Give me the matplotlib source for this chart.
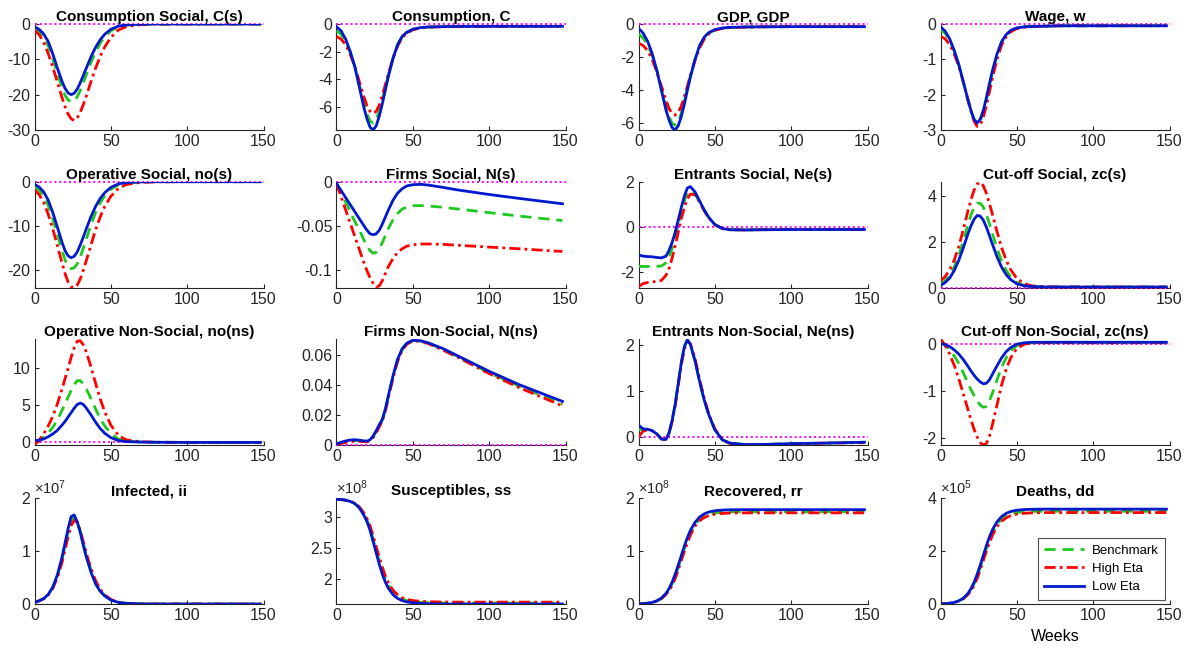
import numpy as np
import matplotlib
matplotlib.use("Agg")
import matplotlib.pyplot as plt
from matplotlib.ticker import FuncFormatter

plt.rcParams['font.family'] = ['Liberation Sans', 'DejaVu Sans']
plt.rcParams['axes.unicode_minus'] = False
plt.rcParams['mathtext.fontset'] = 'custom'
plt.rcParams['mathtext.rm'] = 'Liberation Sans'
plt.rcParams['mathtext.it'] = 'Liberation Sans'

# ---------------- data ----------------
weeks = [0, 3, 6, 9, 12, 15, 18, 20, 22, 24, 26, 28, 30, 32, 34, 37, 40, 43, 46, 50, 55, 60, 70, 80, 100, 120, 148]

# Consumption Social, C(s)
cs_bench = [-1.2, -2.0, -3.5, -6.2, -9.8, -14, -18, -20.2, -21.5, -22, -21.8, -20.6, -18.8, -16.6, -14.3, -10.9, -7.9, -5.5, -3.6, -1.9, -0.8, -0.33, -0.06, 0, 0, 0, 0]
cs_high = [-1.8, -3.0, -5.2, -8.4, -12.2, -16.5, -20.8, -23.4, -25.5, -26.8, -27.3, -26.6, -25, -22.8, -20.3, -16.3, -12.5, -9.2, -6.5, -3.8, -1.7, -0.75, -0.15, -0.03, 0, 0, 0]
cs_low = [-0.8, -1.5, -2.8, -5, -8.5, -12.5, -16.2, -18.2, -19.5, -20, -19.6, -18.4, -16.6, -14.5, -12.4, -9.3, -6.6, -4.5, -2.9, -1.5, -0.6, -0.25, -0.05, 0, 0, 0, 0]

# Consumption, C
c_bench = [-0.5, -0.75, -1.25, -2.05, -3.1, -4.45, -5.8, -6.55, -7.05, -7.2, -6.95, -6.35, -5.5, -4.6, -3.7, -2.5, -1.55, -0.95, -0.62, -0.4, -0.27, -0.22, -0.19, -0.18, -0.17, -0.17, -0.17]
c_high = [-0.9, -1.1, -1.5, -2.2, -3.1, -4.2, -5.3, -5.95, -6.35, -6.5, -6.35, -5.9, -5.2, -4.4, -3.6, -2.5, -1.6, -1.0, -0.66, -0.42, -0.28, -0.23, -0.2, -0.18, -0.17, -0.17, -0.17]
c_low = [-0.2, -0.5, -1.1, -2.0, -3.1, -4.6, -6.1, -6.9, -7.5, -7.7, -7.4, -6.7, -5.8, -4.8, -3.8, -2.5, -1.5, -0.9, -0.6, -0.38, -0.26, -0.22, -0.19, -0.18, -0.17, -0.17, -0.17]

# GDP
gdp_bench = [-0.6, -0.85, -1.25, -1.9, -2.8, -3.9, -5.0, -5.6, -6.0, -6.1, -5.9, -5.4, -4.7, -3.9, -3.15, -2.15, -1.35, -0.85, -0.55, -0.36, -0.25, -0.21, -0.18, -0.17, -0.16, -0.16, -0.16]
gdp_high = [-1.15, -1.3, -1.6, -2.15, -2.9, -3.75, -4.6, -5.1, -5.4, -5.5, -5.35, -4.95, -4.4, -3.75, -3.1, -2.2, -1.45, -0.92, -0.6, -0.38, -0.26, -0.22, -0.19, -0.17, -0.16, -0.16, -0.16]
gdp_low = [-0.25, -0.55, -1.05, -1.8, -2.8, -4.0, -5.2, -5.8, -6.25, -6.4, -6.15, -5.6, -4.85, -4.0, -3.2, -2.15, -1.3, -0.8, -0.52, -0.34, -0.24, -0.2, -0.18, -0.17, -0.16, -0.16, -0.16]

# Wage, w
w_bench = [-0.15, -0.26, -0.46, -0.77, -1.16, -1.65, -2.15, -2.47, -2.72, -2.83, -2.74, -2.5, -2.16, -1.76, -1.38, -0.9, -0.53, -0.32, -0.19, -0.12, -0.08, -0.07, -0.06, -0.05, -0.05, -0.05, -0.05]
w_high = [-0.35, -0.42, -0.58, -0.85, -1.2, -1.65, -2.15, -2.48, -2.75, -2.9, -2.86, -2.65, -2.32, -1.93, -1.53, -1.0, -0.6, -0.36, -0.22, -0.13, -0.09, -0.07, -0.06, -0.05, -0.05, -0.05, -0.05]
w_low = [-0.08, -0.2, -0.42, -0.75, -1.15, -1.65, -2.15, -2.45, -2.7, -2.8, -2.7, -2.45, -2.1, -1.7, -1.32, -0.85, -0.5, -0.3, -0.18, -0.11, -0.08, -0.07, -0.06, -0.05, -0.05, -0.05, -0.05]

# Operative Social, no(s)
nos_bench = [-1.2, -1.9, -3.2, -5.4, -8.4, -12.0, -15.6, -17.7, -19.1, -19.7, -19.5, -18.6, -17.0, -15.0, -12.9, -9.8, -7.0, -4.8, -3.2, -1.7, -0.7, -0.28, -0.05, 0, 0, 0, 0]
nos_high = [-1.8, -2.9, -4.7, -7.4, -10.7, -14.5, -18.4, -20.8, -22.7, -23.8, -24.0, -23.4, -22.0, -20.0, -17.8, -14.3, -10.9, -8.0, -5.6, -3.3, -1.5, -0.65, -0.13, -0.03, 0, 0, 0]
nos_low = [-0.6, -1.2, -2.3, -4.2, -7.0, -10.3, -13.7, -15.6, -16.8, -17.2, -16.9, -15.9, -14.3, -12.5, -10.6, -7.9, -5.6, -3.8, -2.5, -1.3, -0.5, -0.2, -0.04, 0, 0, 0, 0]

# Firms Social, N(s)
ns_bench = [-0.002, -0.013, -0.023, -0.034, -0.045, -0.055, -0.066, -0.073, -0.078, -0.081, -0.08, -0.076, -0.069, -0.061, -0.053, -0.043, -0.036, -0.031, -0.0285, -0.0272, -0.027, -0.0275, -0.029, -0.031, -0.035, -0.039, -0.044]
ns_high = [-0.002, -0.017, -0.032, -0.047, -0.062, -0.077, -0.092, -0.101, -0.109, -0.115, -0.119, -0.118, -0.112, -0.104, -0.096, -0.087, -0.08, -0.076, -0.073, -0.0715, -0.0705, -0.0705, -0.071, -0.072, -0.074, -0.076, -0.079]
ns_low = [-0.002, -0.01, -0.018, -0.026, -0.034, -0.042, -0.05, -0.055, -0.059, -0.06, -0.059, -0.055, -0.048, -0.04, -0.032, -0.021, -0.013, -0.008, -0.0048, -0.0034, -0.003, -0.0038, -0.0065, -0.0095, -0.0145, -0.019, -0.025]

# Entrants Social, Ne(s)
nes_bench = [-1.75, -1.76, -1.76, -1.76, -1.75, -1.74, -1.6, -1.35, -0.95, -0.45, 0.1, 0.65, 1.15, 1.5, 1.6, 1.45, 1.1, 0.72, 0.4, 0.1, -0.08, -0.13, -0.14, -0.13, -0.12, -0.12, -0.12]
nes_high = [-2.65, -2.52, -2.47, -2.44, -2.42, -2.38, -2.15, -1.85, -1.4, -0.85, -0.25, 0.35, 0.85, 1.25, 1.45, 1.42, 1.1, 0.72, 0.4, 0.1, -0.08, -0.13, -0.14, -0.13, -0.12, -0.12, -0.12]
nes_low = [-1.25, -1.3, -1.32, -1.33, -1.36, -1.38, -1.3, -1.05, -0.7, -0.25, 0.3, 0.85, 1.35, 1.72, 1.78, 1.55, 1.15, 0.75, 0.42, 0.1, -0.08, -0.13, -0.14, -0.13, -0.12, -0.12, -0.12]

# Cut-off Social, zc(s)
zcs_bench = [0.15, 0.3, 0.52, 0.9, 1.4, 2.05, 2.75, 3.18, 3.5, 3.68, 3.68, 3.52, 3.2, 2.8, 2.36, 1.72, 1.17, 0.76, 0.47, 0.23, 0.1, 0.05, 0.03, 0.03, 0.03, 0.03, 0.03]
zcs_high = [0.3, 0.48, 0.78, 1.2, 1.8, 2.55, 3.35, 3.85, 4.25, 4.52, 4.6, 4.45, 4.12, 3.68, 3.2, 2.45, 1.75, 1.2, 0.78, 0.4, 0.17, 0.08, 0.04, 0.03, 0.03, 0.03, 0.03]
zcs_low = [0.1, 0.22, 0.42, 0.75, 1.2, 1.75, 2.35, 2.7, 2.98, 3.15, 3.12, 2.95, 2.65, 2.28, 1.9, 1.35, 0.9, 0.57, 0.35, 0.17, 0.08, 0.05, 0.03, 0.03, 0.03, 0.03, 0.03]

# Operative Non-Social, no(ns)
nons_bench = [0.0, 0.25, 0.7, 1.25, 2.0, 3.0, 4.3, 5.2, 6.1, 7.0, 7.8, 8.35, 8.35, 7.9, 7.2, 5.9, 4.5, 3.2, 2.2, 1.15, 0.4, 0.12, 0.0, -0.03, -0.05, -0.05, -0.05]
nons_high = [-0.4, 0.25, 1.1, 2.2, 3.5, 5.2, 7.2, 8.6, 10.0, 11.5, 12.8, 13.7, 13.75, 13.2, 12.2, 10.2, 8.0, 5.9, 4.1, 2.3, 0.9, 0.3, 0.03, -0.02, -0.05, -0.05, -0.05]
nons_low = [0.2, 0.25, 0.42, 0.72, 1.1, 1.6, 2.3, 2.8, 3.4, 4.0, 4.6, 5.1, 5.3, 5.1, 4.6, 3.7, 2.7, 1.85, 1.2, 0.6, 0.2, 0.06, 0.0, -0.03, -0.05, -0.05, -0.05]

# Firms Non-Social, N(ns)
nns_bench = [0.0007, 0.0015, 0.0023, 0.0028, 0.003, 0.0029, 0.0025, 0.0024, 0.0033, 0.0055, 0.009, 0.0128, 0.0165, 0.0233, 0.0323, 0.0453, 0.0563, 0.0635, 0.0674, 0.0695, 0.0692, 0.0678, 0.0635, 0.0585, 0.048, 0.039, 0.027]
nns_high = [0.0005, 0.0011, 0.0017, 0.0022, 0.0025, 0.0025, 0.0022, 0.0021, 0.003, 0.005, 0.008, 0.012, 0.016, 0.0225, 0.0315, 0.0445, 0.0555, 0.063, 0.067, 0.0692, 0.069, 0.0675, 0.063, 0.058, 0.0475, 0.038, 0.026]
nns_low = [0.0008, 0.0018, 0.0027, 0.0033, 0.0035, 0.0032, 0.0027, 0.0026, 0.0035, 0.006, 0.0095, 0.0135, 0.017, 0.024, 0.033, 0.046, 0.057, 0.064, 0.0677, 0.0697, 0.0693, 0.068, 0.064, 0.059, 0.049, 0.04, 0.029]

# Entrants Non-Social, Ne(ns)
nens_bench = [0.15, 0.16, 0.16, 0.13, 0.06, -0.05, -0.06, 0.08, 0.35, 0.7, 1.15, 1.6, 1.95, 2.1, 2.0, 1.65, 1.2, 0.8, 0.48, 0.15, -0.07, -0.14, -0.17, -0.17, -0.15, -0.14, -0.12]
nens_high = [0.0, 0.12, 0.15, 0.13, 0.06, -0.05, -0.06, 0.07, 0.32, 0.66, 1.1, 1.55, 1.9, 2.08, 2.02, 1.7, 1.25, 0.84, 0.5, 0.17, -0.07, -0.15, -0.18, -0.18, -0.16, -0.14, -0.13]
nens_low = [0.25, 0.17, 0.16, 0.13, 0.06, -0.05, -0.06, 0.08, 0.35, 0.7, 1.15, 1.6, 1.95, 2.1, 2.0, 1.65, 1.2, 0.8, 0.48, 0.15, -0.07, -0.14, -0.17, -0.17, -0.15, -0.14, -0.12]

# Cut-off Non-Social, zc(ns)
zcns_bench = [0.05, -0.02, -0.12, -0.26, -0.42, -0.62, -0.84, -0.98, -1.1, -1.22, -1.3, -1.35, -1.33, -1.22, -1.05, -0.77, -0.5, -0.3, -0.15, -0.04, 0.01, 0.02, 0.03, 0.03, 0.03, 0.03, 0.03]
zcns_high = [0.1, -0.03, -0.22, -0.46, -0.75, -1.07, -1.4, -1.62, -1.82, -1.98, -2.1, -2.15, -2.12, -1.97, -1.72, -1.3, -0.88, -0.54, -0.3, -0.1, -0.01, 0.02, 0.02, 0.02, 0.02, 0.02, 0.02]
zcns_low = [0.0, -0.02, -0.06, -0.13, -0.22, -0.34, -0.48, -0.58, -0.67, -0.75, -0.81, -0.85, -0.84, -0.77, -0.65, -0.47, -0.3, -0.17, -0.08, -0.01, 0.02, 0.03, 0.03, 0.03, 0.03, 0.03, 0.03]

# Infected, ii (x1e7)
ii_bench = np.array([0.03, 0.06, 0.1, 0.18, 0.31, 0.53, 0.84, 1.1, 1.36, 1.58, 1.64, 1.55, 1.37, 1.14, 0.92, 0.64, 0.41, 0.26, 0.16, 0.08, 0.033, 0.013, 0.002, 0.0, 0.0, 0.0, 0.0]) * 1e7
ii_high = np.array([0.03, 0.06, 0.1, 0.17, 0.3, 0.5, 0.78, 1.02, 1.27, 1.48, 1.58, 1.54, 1.38, 1.17, 0.95, 0.67, 0.44, 0.28, 0.17, 0.085, 0.035, 0.014, 0.002, 0.0, 0.0, 0.0, 0.0]) * 1e7
ii_low = np.array([0.03, 0.06, 0.1, 0.18, 0.32, 0.55, 0.88, 1.15, 1.42, 1.65, 1.68, 1.55, 1.35, 1.1, 0.88, 0.6, 0.38, 0.24, 0.15, 0.075, 0.03, 0.012, 0.002, 0.0, 0.0, 0.0, 0.0]) * 1e7

# Susceptibles, ss (x1e8)
ss_bench = np.array([3.28, 3.275, 3.265, 3.245, 3.21, 3.145, 3.04, 2.94, 2.81, 2.64, 2.46, 2.29, 2.13, 2.0, 1.9, 1.79, 1.72, 1.68, 1.655, 1.64, 1.628, 1.622, 1.617, 1.615, 1.615, 1.615, 1.615]) * 1e8
ss_high = np.array([3.28, 3.275, 3.265, 3.25, 3.215, 3.155, 3.06, 2.97, 2.85, 2.69, 2.52, 2.35, 2.19, 2.05, 1.94, 1.82, 1.75, 1.7, 1.675, 1.655, 1.643, 1.637, 1.632, 1.63, 1.63, 1.63, 1.63]) * 1e8
ss_low = np.array([3.28, 3.275, 3.265, 3.245, 3.21, 3.14, 3.02, 2.92, 2.78, 2.6, 2.42, 2.24, 2.08, 1.95, 1.85, 1.75, 1.69, 1.655, 1.635, 1.62, 1.61, 1.605, 1.6, 1.6, 1.6, 1.6, 1.6]) * 1e8

# Recovered, rr (x1e8)
rr_bench = np.array([0.0, 0.005, 0.015, 0.03, 0.058, 0.105, 0.19, 0.27, 0.38, 0.52, 0.69, 0.87, 1.04, 1.2, 1.34, 1.5, 1.6, 1.66, 1.695, 1.72, 1.732, 1.738, 1.74, 1.74, 1.74, 1.74, 1.74]) * 1e8
rr_high = np.array([0.0, 0.005, 0.014, 0.028, 0.055, 0.1, 0.18, 0.25, 0.35, 0.48, 0.64, 0.82, 0.99, 1.15, 1.3, 1.47, 1.57, 1.63, 1.67, 1.695, 1.71, 1.716, 1.72, 1.72, 1.72, 1.72, 1.72]) * 1e8
rr_low = np.array([0.0, 0.005, 0.015, 0.03, 0.06, 0.11, 0.2, 0.29, 0.41, 0.56, 0.73, 0.91, 1.09, 1.25, 1.39, 1.54, 1.64, 1.7, 1.735, 1.76, 1.772, 1.778, 1.78, 1.78, 1.78, 1.78, 1.78]) * 1e8

# Deaths, dd (x1e5)
dd_bench = np.array([0.0, 0.01, 0.03, 0.06, 0.115, 0.21, 0.38, 0.54, 0.76, 1.04, 1.38, 1.74, 2.09, 2.41, 2.69, 3.0, 3.2, 3.32, 3.4, 3.45, 3.48, 3.495, 3.5, 3.5, 3.5, 3.5, 3.5]) * 1e5
dd_high = np.array([0.0, 0.01, 0.028, 0.056, 0.11, 0.2, 0.36, 0.5, 0.7, 0.96, 1.28, 1.63, 1.98, 2.3, 2.59, 2.92, 3.12, 3.25, 3.33, 3.39, 3.425, 3.44, 3.45, 3.45, 3.45, 3.45, 3.45]) * 1e5
dd_low = np.array([0.0, 0.01, 0.03, 0.06, 0.12, 0.22, 0.4, 0.58, 0.82, 1.12, 1.46, 1.83, 2.19, 2.52, 2.8, 3.1, 3.3, 3.42, 3.49, 3.54, 3.565, 3.575, 3.58, 3.58, 3.58, 3.58, 3.58]) * 1e5

titles = ['Consumption Social, C(s)', 'Consumption, C', 'GDP, GDP', 'Wage, w',
          'Operative Social, no(s)', 'Firms Social, N(s)', 'Entrants Social, Ne(s)', 'Cut-off Social, zc(s)',
          'Operative Non-Social, no(ns)', 'Firms Non-Social, N(ns)', 'Entrants Non-Social, Ne(ns)', 'Cut-off Non-Social, zc(ns)',
          'Infected, ii', 'Susceptibles, ss', 'Recovered, rr', 'Deaths, dd']
series = [(cs_bench, cs_high, cs_low), (c_bench, c_high, c_low), (gdp_bench, gdp_high, gdp_low), (w_bench, w_high, w_low),
          (nos_bench, nos_high, nos_low), (ns_bench, ns_high, ns_low), (nes_bench, nes_high, nes_low), (zcs_bench, zcs_high, zcs_low),
          (nons_bench, nons_high, nons_low), (nns_bench, nns_high, nns_low), (nens_bench, nens_high, nens_low), (zcns_bench, zcns_high, zcns_low),
          (ii_bench, ii_high, ii_low), (ss_bench, ss_high, ss_low), (rr_bench, rr_high, rr_low), (dd_bench, dd_high, dd_low)]
ylims = [(-30, 0), (-7.7, 0), (-6.4, 0), (-3, 0),
         (-24, 0), (-0.12, 0), (-2.7, 2), (0, 4.62),
         (-0.4, 14), (0, 0.0705), (-0.18, 2.12), (-2.15, 0.1),
         (0, 2e7), (1.6e8, 3.3e8), (0, 2e8), (0, 4e5)]
yticks = [[-30, -20, -10, 0], [-6, -4, -2, 0], [-6, -4, -2, 0], [-3, -2, -1, 0],
          [-20, -10, 0], [-0.1, -0.05, 0], [-2, 0, 2], [0, 2, 4],
          [0, 5, 10], [0, 0.02, 0.04, 0.06], [0, 1, 2], [-2, -1, 0],
          [0, 1e7, 2e7], [2e8, 2.5e8, 3e8], [0, 1e8, 2e8], [0, 2e5, 4e5]]
yexp = [0] * 12 + [7, 8, 8, 5]
xticks = [0, 50, 100, 150]
labels = ['Benchmark', 'High Eta', 'Low Eta']

# ---------------- drawing ----------------
fig = plt.figure(figsize=(11.95, 6.51), dpi=100)
W, H = 1195.0, 651.0
col_left = [34.5, 336.5, 638.5, 940.5]
row_bottom = [130, 287.7, 445, 604]
aw, ah = 229, 106

green = '#1fc81f'
red = '#ff0000'
blue = '#0019cc'
axcol = '#262626'


def make_fmt(scale):
    def f(v, pos):
        return '%g' % round(v / scale, 6)
    return f


for i in range(16):
    r, c = divmod(i, 4)
    ax = fig.add_axes([col_left[c] / W, 1 - row_bottom[r] / H, aw / W, ah / H])
    b, h, l = series[i]
    if r < 3:
        ax.plot([0, 150], [0, 0], color='#ff00ff', ls=(0, (1, 1.5)), lw=1.4,
                zorder=2.7, clip_on=False)
    ax.plot(weeks, b, color=green, ls=(0, (4, 2.5)), lw=2.0, label=labels[0], zorder=3)
    ax.plot(weeks, h, color=red, ls=(0, (4, 1.5, 1, 1.5)), lw=2.0, label=labels[1], zorder=4)
    ax.plot(weeks, l, color=blue, ls='-', lw=2.0, label=labels[2], zorder=5)
    ax.set_xlim(0, 150)
    ax.set_ylim(*ylims[i])
    ax.set_xticks(xticks)
    ax.set_yticks(yticks[i])
    for s in ['top', 'right']:
        ax.spines[s].set_visible(False)
    for s in ['left', 'bottom']:
        ax.spines[s].set_color(axcol)
        ax.spines[s].set_linewidth(0.8)
    ax.tick_params(direction='in', length=3, width=0.8, colors=axcol, labelsize=11.5, pad=3)
    ax.set_title(titles[i], fontsize=11, fontweight='bold', pad=2)
    scale = 10.0 ** yexp[i]
    ax.yaxis.set_major_formatter(FuncFormatter(make_fmt(scale)))
    ax.xaxis.set_major_formatter(FuncFormatter(make_fmt(1.0)))
    if yexp[i]:
        ax.text(0.0, 1.01, r'$\times10^{%d}$' % yexp[i], transform=ax.transAxes,
                ha='left', va='bottom', fontsize=10.5, color=axcol)
    if i == 15:
        ax.set_xlabel('Weeks', fontsize=11.5, labelpad=4)
        leg = ax.legend(loc='lower right', bbox_to_anchor=(0.982, 0.04), borderaxespad=0,
                        fontsize=9.5, handlelength=3.0, frameon=True, fancybox=False,
                        borderpad=0.5, labelspacing=0.45, handletextpad=0.6)
        leg.get_frame().set_edgecolor('#262626')
        leg.get_frame().set_linewidth(0.8)

fig.savefig('out.png', dpi=100)
